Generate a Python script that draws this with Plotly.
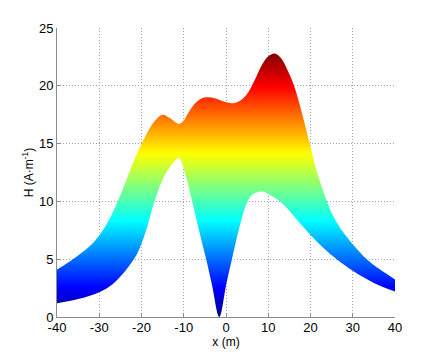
import plotly.graph_objects as go

# Lower boundary of the band
x_lower = [-40, -35, -30, -27, -25, -23, -21, -19, -17, -15, -13, -11.15, -9.6, -8.0,
           -6.45, -4.64, -3.3, -1.58, 0.1, 1.4, 3.0, 4.6, 6.1, 8.47, 10.4, 12.8,
           15, 17.4, 20, 23, 26.2, 30, 35, 40]
y_lower = [1.2, 1.55, 2.15, 2.8, 3.5, 4.4, 5.5, 7.4, 9.9, 11.9, 13.1, 13.75, 12.3, 10.0,
           7.6, 4.9, 2.75, 0.0, 2.9, 5.0, 7.5, 9.55, 10.56, 10.85, 10.56, 10.0,
           9.2, 8.15, 7.1, 6.0, 5.0, 4.0, 2.95, 2.2]

# Upper boundary of the band
x_upper = [-40, -37, -34, -31, -28, -25.5, -23, -21, -19, -17, -15, -13.5, -12, -11.1,
           -10, -9, -7.5, -5.8, -4.3, -2.5, -0.2, 1.8, 3.5, 5.2, 6.8, 8.5, 10, 11.5,
           13, 14.5, 16.1, 18, 19.8, 21.4, 23.8, 25, 26.5, 28, 30, 33.3, 36.5, 40]
y_upper = [4.1, 4.8, 5.6, 6.6, 8.2, 10.1, 12.4, 14.2, 15.7, 16.9, 17.5, 17.25, 16.85, 16.7,
           17.0, 17.6, 18.4, 18.9, 19.0, 18.9, 18.6, 18.5, 18.75, 19.4, 20.5, 21.8, 22.55, 22.8,
           22.4, 21.4, 20.0, 17.6, 15.0, 12.7, 10.1, 9.0, 8.0, 7.2, 6.3, 5.0, 4.1, 3.25]

x_ticks = [-40, -30, -20, -10, 0, 10, 20, 30, 40]
y_ticks = [0, 5, 10, 15, 20, 25]

jet = [
    [0.0, "rgb(0,0,143)"],
    [0.111, "rgb(0,0,255)"],
    [0.365, "rgb(0,255,255)"],
    [0.619, "rgb(255,255,0)"],
    [0.873, "rgb(255,0,0)"],
    [1.0, "rgb(128,0,0)"],
]

fig = go.Figure()
fig.add_trace(go.Scatter(
    x=x_lower, y=y_lower, mode="lines",
    line=dict(width=0, shape="spline", smoothing=1.0),
    hoverinfo="skip", showlegend=False,
))
fig.add_trace(go.Scatter(
    x=x_upper, y=y_upper, mode="lines",
    line=dict(width=0, shape="spline", smoothing=1.0),
    fill="tonexty",
    fillgradient=dict(type="vertical", colorscale=jet,
                      start=min(y_lower), stop=max(y_upper)),
    hoverinfo="skip", showlegend=False,
))

axis_common = dict(
    showgrid=True, gridcolor="rgb(160,160,160)", griddash="1px,2px", gridwidth=1,
    zeroline=False, showline=True, linecolor="rgb(140,140,140)", linewidth=1,
    ticks="inside", ticklen=4, tickcolor="rgb(140,140,140)",
    tickfont=dict(size=13, color="black"), automargin=False,
)

fig.update_layout(
    width=437, height=356,
    margin=dict(l=57, r=42, t=28, b=39),
    paper_bgcolor="white", plot_bgcolor="white",
    font=dict(family="Liberation Sans, Arial, sans-serif", size=13, color="black"),
    xaxis=dict(range=[-40, 40], tickvals=x_ticks, ticktext=[str(v) for v in x_ticks],
               ticklabelstandoff=-2,
               title=dict(text="x (m)", standoff=0, font=dict(size=12)), **axis_common),
    yaxis=dict(range=[0, 25], tickvals=y_ticks, ticktext=[str(v) for v in y_ticks],
               title=dict(text="H (A·m<sup>-1</sup>)", standoff=2, font=dict(size=12)), **axis_common),
)

fig.write_html("out.html", config={"displayModeBar": False},
               post_script="document.body.style.margin='0px';document.body.style.overflow='hidden';")
